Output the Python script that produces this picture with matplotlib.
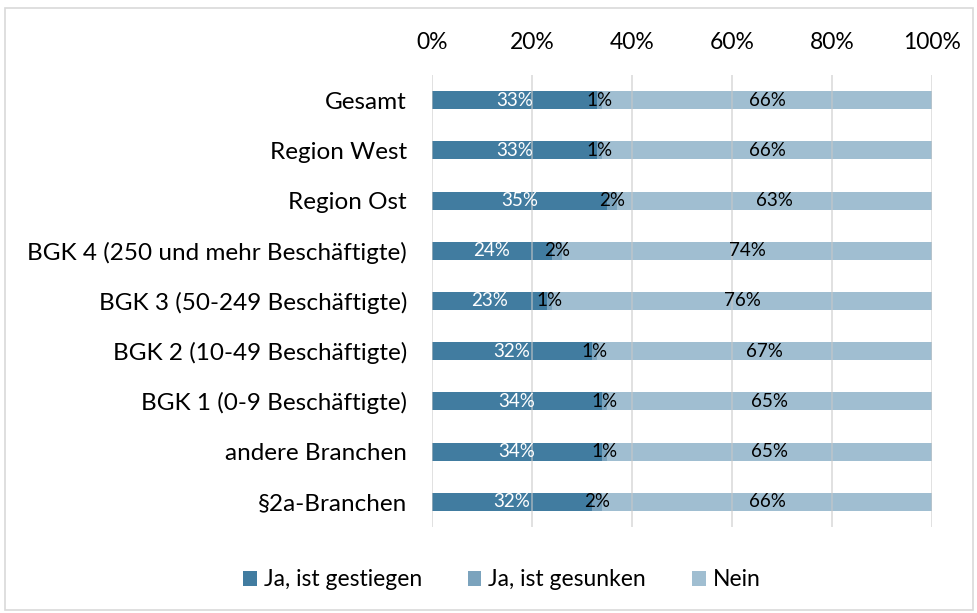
import matplotlib.pyplot as plt
from matplotlib.patches import Rectangle

categories = ["Gesamt", "Region West", "Region Ost", "BGK 4 (250 und mehr Beschäftigte)",
              "BGK 3 (50-249 Beschäftigte)", "BGK 2 (10-49 Beschäftigte)",
              "BGK 1 (0-9 Beschäftigte)", "andere Branchen", "§2a-Branchen"]
gestiegen = [33, 33, 35, 24, 23, 32, 34, 34, 32]
gesunken = [1, 1, 2, 2, 1, 1, 1, 1, 2]
nein = [66, 66, 63, 74, 76, 67, 65, 65, 66]
series_names = ["Ja, ist gestiegen", "Ja, ist gesunken", "Nein"]
colors = ["#417ca0", "#7ba3bd", "#a0bed1"]
text_colors = ["white", "black", "black"]

plt.rcParams['font.family'] = ['Lato', 'DejaVu Sans']

fig = plt.figure(figsize=(9.78, 6.13), dpi=100)
ax = fig.add_axes([432/978, 1-527/613, 500/978, 452/613])

y = list(range(len(categories)))
left = [0]*len(categories)
for vals, col, tc, name in zip([gestiegen, gesunken, nein], colors, text_colors, series_names):
    ax.barh(y, vals, left=left, height=0.36, color=col, label=name, zorder=2)
    for yi, l, v in zip(y, left, vals):
        ax.text(l + v/2, yi, f"{v}%", ha="center", va="center", color=tc, fontsize=13.5, zorder=4)
    left = [a + b for a, b in zip(left, vals)]

ax.set_xlim(0, 100)
ax.set_ylim(len(categories)-0.5, -0.5)
ax.set_yticks(y)
ax.set_yticklabels(categories, fontsize=17.5)
ax.set_xticks([0, 20, 40, 60, 80, 100])
ax.set_xticklabels(["0%", "20%", "40%", "60%", "80%", "100%"], fontsize=16.5)
ax.xaxis.tick_top()
ax.tick_params(axis="both", length=0)
ax.tick_params(axis="x", pad=16)
ax.tick_params(axis="y", pad=18)
ax.grid(axis="x", color="#c8c8c8", linewidth=1.3, alpha=0.6, zorder=3)
ax.set_axisbelow(False)
for s in ax.spines.values():
    s.set_visible(False)

fig.legend(loc="center", bbox_to_anchor=(0.513, 1-580/613), ncol=3, frameon=False,
           fontsize=16.5, handlelength=0.6, handleheight=0.6, handletextpad=0.3, columnspacing=2.0)

fig.patches.append(Rectangle((5/978, 3/613), 968/978, 602/613, transform=fig.transFigure,
                             fill=False, edgecolor="#d9d9d9", linewidth=1.2))

fig.savefig("out.png", dpi=100)
